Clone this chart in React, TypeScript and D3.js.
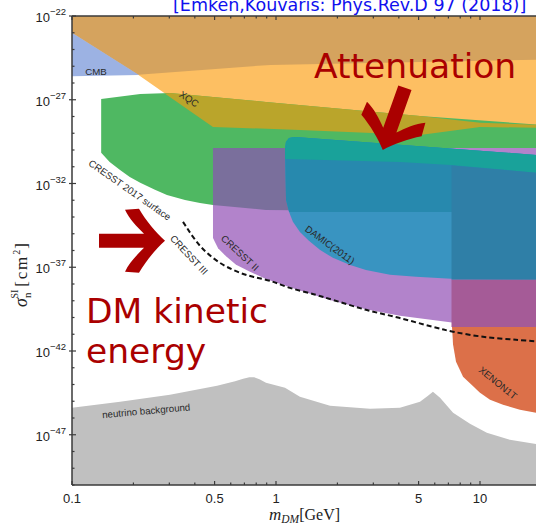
import React from 'react';
import * as d3 from 'd3';

type P = [number, number]; // [m_DM in GeV, log10(sigma / cm^2)]

// axis ticks
const massTickValues = [0.1, 0.5, 1, 5, 10];
const massTickLabels = ['0.1', '0.5', '1', '5', '10'];
const sigmaExpTicks = [-22, -27, -32, -37, -42, -47];

// exclusion regions (boundaries)
const cmbRegion: P[] = [[0.1, -23.0], [0.213, -25.52], [0.1, -25.6]];
const xqcUpperOverlap: P[] = [[0.1, -22], [20, -22], [20, -24.6], [5.1, -24.74], [0.94, -24.92], [0.211, -25.5], [0.1, -23.0]];
const xqcRegion: P[] = [[0.1, -22], [20, -22], [20, -28.68], [10, -28.62], [5.08, -29.1], [1.31, -28.8], [0.491, -28.62], [0.211, -25.5], [0.1, -25.5]];
const cresstSurfaceRegion: P[] = [
  [0.139, -26.95], [0.216, -26.65], [0.302, -26.59], [0.893, -27.13], [5.08, -27.97], [20, -28.5],
  [20, -33.8], [7.2, -33.7], [1.17, -33.58], [0.893, -33.58], [0.491, -33.28], [0.424, -33.16],
  [0.358, -32.98], [0.292, -32.68], [0.255, -32.38], [0.216, -31.96], [0.192, -31.61], [0.172, -31.19],
  [0.153, -30.71], [0.139, -30.17],
];
const xqcSurfaceOverlap: P[] = [[0.285, -26.62], [0.302, -26.59], [0.893, -27.13], [5.08, -27.97], [10, -28.38], [20, -28.5], [20, -28.68], [10, -28.62], [5.08, -29.1], [1.31, -28.8], [0.491, -28.62]];
const cresst2Region: P[] = [
  [0.491, -29.88], [20, -29.88], [20, -40.62], [7.29, -40.3], [4.05, -39.9], [2.76, -39.5], [1.84, -38.95],
  [1.17, -38.2], [0.893, -37.7], [0.746, -37.27], [0.637, -36.85], [0.569, -36.35], [0.52, -35.86], [0.491, -35.25],
];
const cresst2SurfaceOverlap: P[] = [[0.491, -29.88], [1.2, -29.88], [1.2, -33.6], [0.893, -33.58], [0.491, -33.28]];
const damicRegion: P[] = [
  [1.107, -30.0], [1.119, -29.52], [1.158, -29.28], [1.239, -29.22], [20, -30.32], [20, -37.75], [7.21, -37.69],
  [4.86, -37.57], [3.62, -37.45], [2.76, -37.16], [2.31, -36.86], [1.9, -36.44], [1.64, -35.96], [1.45, -35.42],
  [1.31, -34.89], [1.21, -34.29], [1.158, -33.69], [1.12, -32.98],
];
const damicMidBand: P[] = [[1, -29], [20, -29], [20, -33.7], [1, -33.7]];
const damicTopBand: P[] = [[1, -29], [20, -29], [20, -31.39], [7.21, -30.89], [4.05, -30.71], [1.12, -30.53], [1, -30.53]];
const rightStripRegion: P[] = [[7.25, -30.92], [20, -31.39], [20, -37.75], [7.25, -37.75]];
const rightPurpleOverlap: P[] = [[7.25, -37.75], [20, -37.75], [20, -40.62], [7.25, -40.56]];
const xenon1tRegion: P[] = [
  [7.29, -40.56], [20, -40.56], [20, -45.75], [15.7, -45.51], [12.97, -45.21], [11.2, -44.91], [10, -44.49],
  [8.26, -43.54], [7.63, -42.64], [7.38, -41.63],
];
const neutrinoFloor: P[] = [
  [0.1, -45.39], [0.172, -45.03], [0.302, -44.61], [0.514, -44.08], [0.63, -43.8], [0.69, -43.65], [0.74, -43.56],
  [0.78, -43.56], [0.83, -43.68], [0.893, -43.9], [1.107, -44.2], [1.31, -44.73], [1.84, -45.27], [2.89, -45.45], [4.05, -45.39],
  [5.08, -45.03], [5.56, -44.67], [5.88, -44.43], [6.37, -44.79], [7.38, -45.69], [8.93, -46.34], [10.8, -46.88],
  [14.0, -47.3], [20, -47.6], [20, -50], [0.1, -50],
];
const cresst3Line: P[] = [
  [0.35, -34.29], [0.366, -34.65], [0.392, -35.19], [0.424, -35.72], [0.459, -36.14], [0.514, -36.62], [0.575, -36.98],
  [0.666, -37.33], [0.771, -37.57], [0.935, -37.81], [1.17, -38.23], [1.57, -38.65], [1.9, -38.95], [2.76, -39.54],
  [4.01, -40.02], [5.88, -40.56], [7.38, -40.85], [10.35, -41.15], [15.0, -41.33], [20, -41.45],
];

const regionLabels = [
  { text: 'CMB', m: 0.131, s: -25.31, angle: 0 },
  { text: 'XQC', m: 0.375, s: -26.95, angle: 34 },
  { text: 'CRESST 2017 surface', m: 0.192, s: -32.38, angle: 35 },
  { text: 'CRESST III', m: 0.375, s: -36.26, angle: 47 },
  { text: 'CRESST II', m: 0.666, s: -36.14, angle: 43 },
  { text: 'DAMIC(2011)', m: 1.84, s: -35.66, angle: 36 },
  { text: 'XENON1T', m: 12.25, s: -43.9, angle: 39 },
  { text: 'neutrino background', m: 0.231, s: -45.57, angle: -5 },
];

const arrows = [
  { m: 0.2825, s: -35.42, angle: 0 },
  { m: 3.35, s: -29.94, angle: 109.6 },
];

const ARROW_PATH =
  'M -65 -7 L -20 -7 C -27 -14 -35 -22 -39 -31 L -25 -32 C -18 -20 -8 -8 1 0 C -8 8 -18 20 -25 32 L -39 31 C -35 22 -27 14 -20 7 L -65 7 Z';

export default function App() {
  const W = 536;
  const H = 525;
  const left = 72;
  const right = 536;
  const top = 16;
  const bottom = 485;
  const x = d3.scaleLog().domain([0.1, 10]).range([72, 480]);
  const y = d3.scaleLinear().domain([-50, -22]).range([bottom, top]);
  const poly = d3.line<P>().x((d) => x(d[0])).y((d) => y(d[1])).curve(d3.curveLinearClosed);
  const curve = d3.line<P>().x((d) => x(d[0])).y((d) => y(d[1])).curve(d3.curveCatmullRom.alpha(0.5));

  const minorMass: number[] = [];
  [0.1, 1, 10].forEach((b) => {
    for (let k = 1; k <= 9; k++) {
      const v = b * k;
      if (x(v) <= right + 0.5) minorMass.push(v);
    }
  });
  const minorExp: number[] = d3.range(-50, -21);

  const axisColor = '#3a3a3a';
  const tickFont = '"Liberation Sans", Arial, sans-serif';
  const serif = '"Liberation Serif", "Times New Roman", serif';

  return (
    <svg width={W} height={H} style={{ position: 'absolute', left: 0, top: 0, background: '#fff' }}>
      <defs>
        <clipPath id="plot">
          <rect x={left} y={top} width={right - left} height={bottom - top} />
        </clipPath>
        <clipPath id="damic">
          <path d={poly(damicRegion) || ''} />
        </clipPath>
      </defs>
      <g clipPath="url(#plot)">
        <path d={poly(neutrinoFloor) || ''} fill="#c0c0c0" />
        <path d={poly(xqcRegion) || ''} fill="#fdbf62" />
        <path d={poly(xqcUpperOverlap) || ''} fill="#d5a35e" />
        <path d={poly(cmbRegion) || ''} fill="#9cb2e3" />
        <path d={poly(cresstSurfaceRegion) || ''} fill="#4fb862" />
        <path d={poly(xqcSurfaceOverlap) || ''} fill="#baa52b" />
        <path d={poly(cresst2Region) || ''} fill="#b283cb" />
        <path d={poly(cresst2SurfaceOverlap) || ''} fill="#7a6f9c" />
        <path d={poly(damicRegion) || ''} fill="#3994c1" />
        <g clipPath="url(#damic)">
          <path d={poly(damicMidBand) || ''} fill="#2789ae" />
          <path d={poly(damicTopBand) || ''} fill="#19a29a" />
        </g>
        <path d={poly(rightStripRegion) || ''} fill="#2f7fa7" />
        <path d={poly(rightPurpleOverlap) || ''} fill="#a55b97" />
        <path d={poly(xenon1tRegion) || ''} fill="#dc7049" />
        <path d={curve(cresst3Line) || ''} fill="none" stroke="#111" strokeWidth={2} strokeDasharray="5 3" />
        {regionLabels.map((l) => (
          <text
            key={l.text}
            transform={`translate(${x(l.m)},${y(l.s)}) rotate(${l.angle})`}
            textAnchor="middle"
            dominantBaseline="central"
            fontFamily={tickFont}
            fontSize={9.7}
            fill="#2a2a2a"
          >
            {l.text}
          </text>
        ))}
      </g>

      {/* axes frame */}
      <line x1={left} x2={left} y1={top} y2={bottom} stroke={axisColor} strokeWidth={1.5} />
      <line x1={left} x2={right} y1={bottom} y2={bottom} stroke={axisColor} strokeWidth={1.5} />
      <line x1={left} x2={right} y1={top} y2={top} stroke={axisColor} strokeWidth={1.5} />

      {minorMass.map((v) => {
        const major = massTickValues.some((t) => Math.abs(t - v) < 1e-9);
        const len = major ? 4 : 2.5;
        return (
          <g key={'mx' + v}>
            <line x1={x(v)} x2={x(v)} y1={bottom} y2={bottom - len} stroke={axisColor} strokeWidth={1.2} />
            <line x1={x(v)} x2={x(v)} y1={top} y2={top + len} stroke={axisColor} strokeWidth={1.2} />
          </g>
        );
      })}
      {minorExp.map((e) => {
        const major = sigmaExpTicks.includes(e);
        return (
          <line
            key={'ye' + e}
            x1={major ? left - 3 : left}
            x2={left + (major ? 4 : 2.5)}
            y1={y(e)}
            y2={y(e)}
            stroke={axisColor}
            strokeWidth={1.2}
          />
        );
      })}

      {massTickValues.map((v, i) => (
        <text key={'xl' + v} x={x(v)} y={503} textAnchor="middle" fontFamily={tickFont} fontSize={13} fill="#222">
          {massTickLabels[i]}
        </text>
      ))}
      {sigmaExpTicks.map((e) => (
        <text key={'yl' + e} x={50} y={y(e) + 6} textAnchor="end" fontFamily={tickFont} fontSize={13} fill="#222">
          10
          <tspan x={50} dy={-7} textAnchor="start" fontSize={9.5}>
            {'\u2212' + Math.abs(e)}
          </tspan>
        </text>
      ))}

      {/* axis titles */}
      <text x={269} y={520} fontFamily={serif} fontSize={17} fill="#222">
        <tspan fontStyle="italic">m</tspan>
        <tspan fontStyle="italic" fontSize={11.5} dy={3}>DM</tspan>
        <tspan dy={-3} fontSize={16}>[GeV]</tspan>
      </text>
      <text transform="translate(27,307) rotate(-90)" fontFamily={serif} fontSize={18} fill="#222">
        <tspan fontStyle="italic">σ</tspan>
        <tspan fontSize={11} dy={4}>n</tspan>
        <tspan fontSize={10} dx={-6} dy={-13}>SI</tspan>
        <tspan dy={9} dx={3} fontSize={17} letterSpacing={1.8}>[cm</tspan>
        <tspan fontSize={10} dy={-7}>2</tspan>
        <tspan fontSize={17} dy={7} dx={1}>]</tspan>
      </text>

      {/* annotations */}
      {arrows.map((a, i) => (
        <path key={'ar' + i} d={ARROW_PATH} fill="#aa0000" transform={`translate(${x(a.m)},${y(a.s)}) rotate(${a.angle})`} />
      ))}
      <g fontFamily='"DejaVu Sans", Verdana, sans-serif' fill="#aa0000" fontSize={34.5}>
        <text x={314} y={78}>Attenuation</text>
        <text x={86} y={323}>DM kinetic</text>
        <text x={86} y={363}>energy</text>
      </g>
      <text x={173} y={11} fontFamily='"DejaVu Sans", Verdana, sans-serif' fontSize={17.5} fill="#1010ee">
        [Emken,Kouvaris: Phys.Rev.D 97 (2018)]
      </text>
    </svg>
  );
}
